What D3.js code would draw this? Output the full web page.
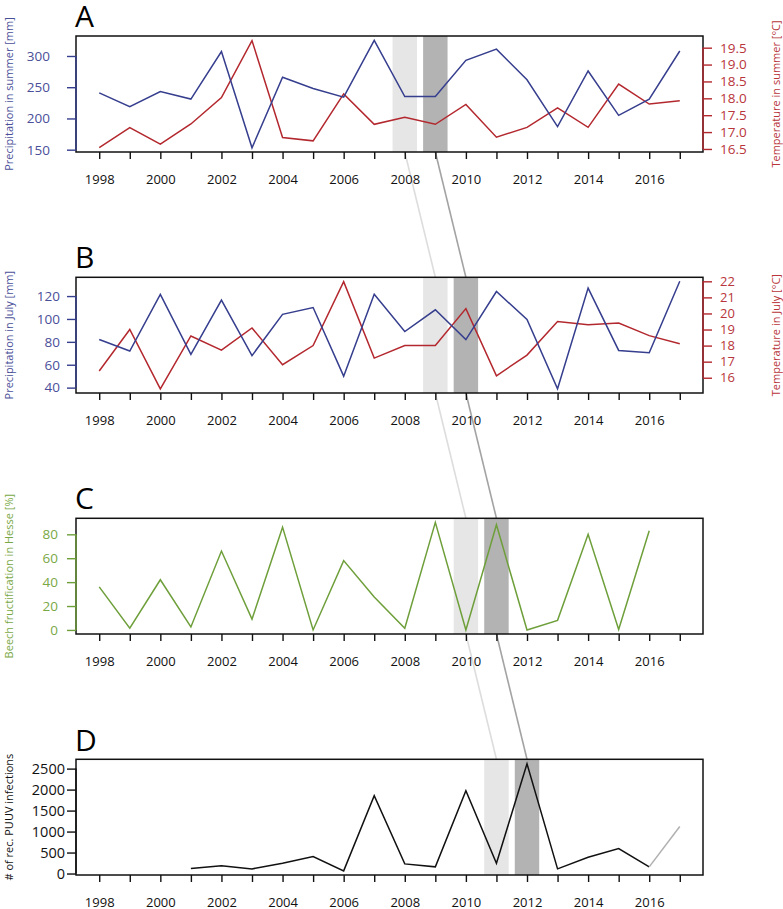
<!DOCTYPE html>
<html>
<head>
<meta charset="utf-8">
<script src="https://cdn.jsdelivr.net/npm/d3@7"></script>
<style>
  html, body { margin: 0; padding: 0; background: #fff; }
  svg { display: block; }
  text { font-family: "Open Sans", "DejaVu Sans", sans-serif; }
</style>
</head>
<body>
<svg id="chart" width="783" height="909"></svg>
<script>
// ---------------- data ----------------
const years = [1998,1999,2000,2001,2002,2003,2004,2005,2006,2007,2008,2009,2010,2011,2012,2013,2014,2015,2016,2017];
const xTickLabels = [1998,2000,2002,2004,2006,2008,2010,2012,2014,2016];

const precipSummer = [241,219,243,231,307,153,266,248,234,325,235,235,293,311,262,187,276,205,231,308];
const tempSummer   = [16.54,17.13,16.64,17.24,18.02,19.71,16.84,16.74,18.13,17.23,17.44,17.23,17.82,16.85,17.14,17.72,17.14,18.42,17.83,17.93];

const precipJuly = [82,72,121.5,69,116.5,68,104,110,50,121.5,89,108,82,124,99.5,39,127,72.5,70.5,133];
const tempJuly   = [16.42,19.0,15.31,18.6,17.72,19.1,16.81,18.0,21.98,17.22,18.0,18.0,20.3,16.12,17.41,19.5,19.3,19.4,18.62,18.12];

const beech = [36,1.4,42,2.5,66,9,86,0,58,27.5,1.4,90,0,88,0,8,80,0.3,83,null];

const puuv = [null,null,null,119,183,111,246,405,63,1857,230,159,1976,246,2615,111,389,595,159,null];
const puuvPartialYears = [2016,2017];
const puuvPartial = [159,1119];

const ticksPrecipSummer = [150,200,250,300];
const ticksTempSummer = [16.5,17.0,17.5,18.0,18.5,19.0,19.5];
const ticksPrecipJuly = [40,60,80,100,120];
const ticksTempJuly = [16,17,18,19,20,21,22];
const ticksBeech = [0,20,40,60,80];
const ticksPuuv = [0,500,1000,1500,2000,2500];

// highlighted years per panel: [light, dark]
const highlightA = [2008,2009];
const highlightB = [2009,2010];
const highlightC = [2010,2011];
const highlightD = [2011,2012];

// ---------------- styling ----------------
const BLUE = "#363e8e", BLUE_T = "#4a4f99";
const RED = "#b3282e", RED_T = "#b8353a";
const GREEN = "#6e9f3a", GREEN_T = "#7aa845";
const BLACK = "#111";
const LIGHT_BAND = "#e6e6e6", DARK_BAND = "#b3b3b3";
const LIGHT_LINK = "#dddddd", DARK_LINK = "#a3a3a3";

const svg = d3.select("#chart");
const L = 76, R = 703;

const x = d3.scaleLinear().domain([1997.24, 2017.76]).range([L, R]);

const panels = [
  { id:"A", top:36, bottom:152, letterY:27,
    left:{ data:precipSummer, domain:[146.3,332], ticks:ticksPrecipSummer, color:BLUE, tcolor:BLUE_T, pad:17, fmt:d3.format("d"), label:"Precipitation in summer [mm]", fs:13.5 },
    right:{ data:tempSummer, domain:[16.41,19.846], ticks:ticksTempSummer, color:RED, tcolor:RED_T, fmt:d3.format(".1f"), label:"Temperature in summer [°C]", fs:13.5 },
    hl:highlightA },
  { id:"B", top:277.3, bottom:393, letterY:268,
    left:{ data:precipJuly, domain:[35.3,136.4], ticks:ticksPrecipJuly, color:BLUE, tcolor:BLUE_T, pad:7, fmt:d3.format("d"), label:"Precipitation in July [mm]", fs:13.5 },
    right:{ data:tempJuly, domain:[15.05,22.25], ticks:ticksTempJuly, color:RED, tcolor:RED_T, fmt:d3.format("d"), label:"Temperature in July [°C]", fs:13 },
    hl:highlightB },
  { id:"C", top:518.3, bottom:634, letterY:509,
    left:{ data:beech, domain:[-3.4,93.4], ticks:ticksBeech, color:GREEN, tcolor:GREEN_T, pad:9, fmt:d3.format("d"), label:"Beech fructification in Hesse [%]", fs:13.5 },
    hl:highlightC },
  { id:"D", top:759.3, bottom:875, letterY:750.5,
    left:{ data:puuv, domain:[-35,2722], ticks:ticksPuuv, color:BLACK, tcolor:"#111", pad:2, fmt:d3.format("d"), label:"# of rec. PUUV infections", fs:14.5 },
    hl:highlightD },
];

// connecting links (drawn first, behind everything)
const links = svg.append("g");
for (let i = 0; i < panels.length - 1; i++) {
  const p = panels[i], q = panels[i+1];
  [[0, LIGHT_LINK],[1, DARK_LINK]].forEach(([k, c]) => {
    links.append("line")
      .attr("x1", x(p.hl[k])).attr("y1", p.bottom)
      .attr("x2", x(q.hl[k])).attr("y2", q.top)
      .attr("stroke", c).attr("stroke-width", 1.6);
  });
}

panels.forEach(p => {
  const g = svg.append("g");
  // bands
  const bw = 0.8;
  [[0, LIGHT_BAND],[1, DARK_BAND]].forEach(([k, c]) => {
    g.append("rect")
      .attr("x", x(p.hl[k] - bw/2)).attr("width", x(p.hl[k] + bw/2) - x(p.hl[k] - bw/2))
      .attr("y", p.top).attr("height", p.bottom - p.top)
      .attr("fill", c);
  });

  const yl = d3.scaleLinear().domain(p.left.domain).range([p.bottom, p.top]);
  let yr = null;
  if (p.right) yr = d3.scaleLinear().domain(p.right.domain).range([p.bottom, p.top]);

  // lines
  const lineL = d3.line().defined(d => d[1] != null).x(d => x(d[0])).y(d => yl(d[1]));
  if (p.right) {
    g.append("path").datum(years.map((yv,i) => [yv, p.right.data[i]]))
      .attr("d", d3.line().defined(d => d[1] != null).x(d => x(d[0])).y(d => yr(d[1])))
      .attr("fill","none").attr("stroke", p.right.color).attr("stroke-width", 1.5);
  }
  g.append("path").datum(years.map((yv,i) => [yv, p.left.data[i]]))
    .attr("d", lineL)
    .attr("fill","none").attr("stroke", p.left.color).attr("stroke-width", 1.5);
  if (p.id === "D") {
    g.append("path").datum(puuvPartialYears.map((yv,i) => [yv, puuvPartial[i]]))
      .attr("d", lineL)
      .attr("fill","none").attr("stroke", "#b0b0b0").attr("stroke-width", 1.5);
  }

  // box
  g.append("rect").attr("x", L).attr("y", p.top).attr("width", R - L).attr("height", p.bottom - p.top)
    .attr("fill","none").attr("stroke","#111").attr("stroke-width",1.5);

  // x axis
  const xa = g.append("g").attr("transform", `translate(0,${p.bottom})`)
    .call(d3.axisBottom(x).tickValues(years).tickSize(7)
      .tickFormat(d => xTickLabels.includes(d) ? String(d) : ""));
  xa.select(".domain").remove();
  xa.selectAll(".tick line").attr("stroke","#111").attr("stroke-width",1.4);
  xa.selectAll(".tick text").attr("y", 32).attr("dy", 0)
    .attr("font-size", 13).attr("fill","#111")
    .style("font-family", '"Open Sans", sans-serif');

  // left axis
  const la = g.append("g").attr("transform", `translate(${L},0)`)
    .call(d3.axisLeft(yl).tickValues(p.left.ticks).tickSize(9).tickPadding(p.left.pad).tickFormat(p.left.fmt));
  la.select(".domain").remove();
  la.append("line").attr("x1",0).attr("x2",0)
    .attr("y1", yl(p.left.ticks[0])).attr("y2", yl(p.left.ticks[p.left.ticks.length-1]))
    .attr("stroke", p.left.color).attr("stroke-width",1.4);
  la.selectAll(".tick line").attr("stroke", p.left.color).attr("stroke-width",1.4);
  la.selectAll(".tick text").attr("font-size", p.left.fs).attr("fill", p.left.tcolor)
    .style("font-family", '"Open Sans", sans-serif');

  svg.append("text")
    .attr("transform", `translate(8,${(p.top+p.bottom)/2}) rotate(-90)`)
    .attr("text-anchor","middle").attr("dominant-baseline","central")
    .attr("font-size", 11).attr("fill", p.left.tcolor)
    .text(p.left.label);

  // right axis
  if (p.right) {
    const ra = g.append("g").attr("transform", `translate(${R},0)`)
      .call(d3.axisRight(yr).tickValues(p.right.ticks).tickSize(9).tickPadding(8).tickFormat(p.right.fmt));
    ra.select(".domain").remove();
    ra.append("line").attr("x1",0).attr("x2",0)
      .attr("y1", yr(p.right.ticks[0])).attr("y2", yr(p.right.ticks[p.right.ticks.length-1]))
      .attr("stroke", p.right.color).attr("stroke-width",1.4);
    ra.selectAll(".tick line").attr("stroke", p.right.color).attr("stroke-width",1.4);
    ra.selectAll(".tick text").attr("font-size", p.right.fs).attr("fill", p.right.tcolor)
      .style("font-family", '"Open Sans", sans-serif');

    svg.append("text")
      .attr("transform", `translate(775,${(p.top+p.bottom)/2}) rotate(-90)`)
      .attr("text-anchor","middle").attr("dominant-baseline","central")
      .attr("font-size", 11).attr("fill", p.right.tcolor)
      .text(p.right.label);
  }

  // panel letter
  svg.append("text").attr("x", L - 1).attr("y", p.letterY)
    .attr("font-size", 30).attr("fill","#000").text(p.id);
});
</script>
</body>
</html>
